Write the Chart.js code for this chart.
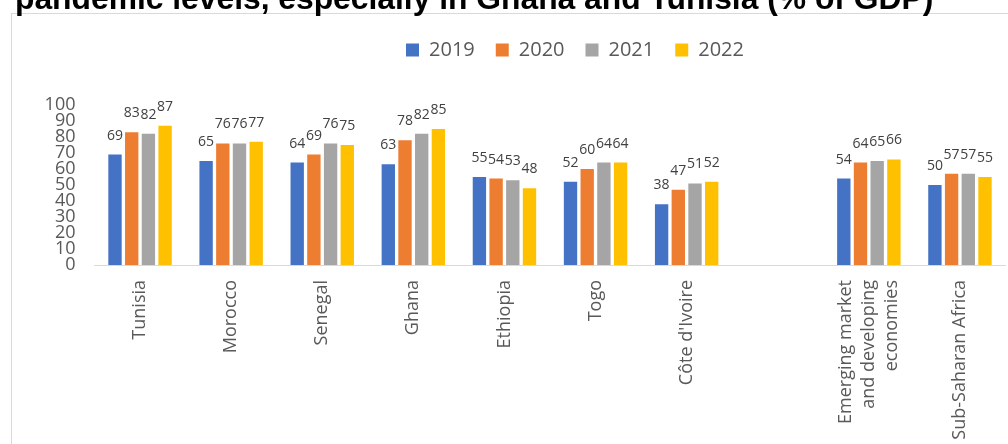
<!DOCTYPE html>
<html>
<head>
<meta charset="utf-8">
<script src="https://cdn.jsdelivr.net/npm/chart.js@4"></script>
<style>
  html, body { margin: 0; padding: 0; width: 1008px; height: 444px; overflow: hidden; background: #fff; }
  #title {
    position: absolute; left: 15px; top: -18px;
    font: bold 31.8px/32px "Liberation Sans", Arial, sans-serif;
    color: #000; white-space: nowrap; z-index: 2;
  }
  #frame {
    position: absolute; left: 11px; top: 13px; width: 1140px; height: 460px;
    border: 1px solid #d9d9d9;
  }
  #wrap { position: absolute; left: 12px; top: 14px; width: 1126px; height: 430px; }
</style>
</head>
<body>
<div id="title">pandemic levels, especially in Ghana and Tunisia (% of GDP)</div>
<div id="frame"></div>
<div id="wrap"><canvas id="barChart"></canvas></div>
<script>
// categories (blank slot separates the country groups from the aggregates)
const categories = ['Tunisia', 'Morocco', 'Senegal', 'Ghana', 'Ethiopia', 'Togo', "Côte d'Ivoire", '',
    ['Emerging market', 'and developing', 'economies'], 'Sub-Saharan Africa'];
const years = ['2019', '2020', '2021', '2022'];
const values2019 = [69, 65, 64, 63, 55, 52, 38, null, 54, 50];
const values2020 = [83, 76, 69, 78, 54, 60, 47, null, 64, 57];
const values2021 = [82, 76, 76, 82, 53, 64, 51, null, 65, 57];
const values2022 = [87, 77, 75, 85, 48, 64, 52, null, 66, 55];
const yTicks = [0, 10, 20, 30, 40, 50, 60, 70, 80, 90, 100];
const colors = ['#4472C4', '#ED7D31', '#A5A5A5', '#FFC000'];

const series = [values2019, values2020, values2021, values2022];
const tickFont = '18px "Open Sans"';

// value labels above each bar
const barLabels = {
    id: 'barLabels',
    afterDatasetsDraw(chart) {
        const ctx = chart.ctx;
        ctx.save();
        ctx.font = '14px "Open Sans"';
        ctx.fillStyle = '#404040';
        ctx.textAlign = 'center';
        ctx.textBaseline = 'alphabetic';
        chart.data.datasets.forEach((ds, i) => {
            chart.getDatasetMeta(i).data.forEach((bar, j) => {
                const v = ds.data[j];
                if (v == null) return;
                ctx.fillText(String(v), bar.x, bar.y - 15);
            });
        });
        ctx.restore();
    }
};

// multi-line category labels: centre the block of lines on the tick
const multiLineTicks = {
    id: 'multiLineTicks',
    afterDraw(chart) {
        const scale = chart.scales.x;
        const ctx = chart.ctx;
        const lineH = 23.4;
        ctx.save();
        ctx.font = tickFont;
        ctx.fillStyle = '#595959';
        categories.forEach((cat, i) => {
            if (!Array.isArray(cat)) return;
            const x = scale.getPixelForValue(i);
            const y = scale.top + 15;
            ctx.save();
            ctx.translate(x, y);
            ctx.rotate(-Math.PI / 2);
            ctx.textAlign = 'right';
            ctx.textBaseline = 'middle';
            cat.forEach((line, k) => {
                ctx.fillText(line, 0, (k - (cat.length - 1) / 2) * lineH);
            });
            ctx.restore();
        });
        ctx.restore();
    }
};

// leave room between legend and plot
const legendSpace = {
    id: 'legendSpace',
    afterInit(chart) {
        const legend = chart.legend;
        const fit = legend.fit;
        legend.fit = function () {
            fit.call(this);
            this.height = 86;
        };
    }
};

const ctx = document.getElementById('barChart').getContext('2d');
const chart = new Chart(ctx, {
    type: 'bar',
    data: {
        labels: categories,
        datasets: series.map((data, i) => ({
            label: years[i],
            data: data,
            backgroundColor: colors[i],
            categoryPercentage: 0.733,
            barPercentage: 0.8
        }))
    },
    options: {
        responsive: true,
        maintainAspectRatio: false,
        animation: false,
        layout: { padding: { top: 5, left: 0, right: 0, bottom: 0 } },
        plugins: {
            legend: {
                position: 'top',
                labels: {
                    boxWidth: 13,
                    boxHeight: 13,
                    padding: 21,
                    color: '#595959',
                    font: { family: 'Open Sans', size: 20 }
                }
            },
            tooltip: { enabled: false }
        },
        scales: {
            x: {
                grid: { display: false, drawTicks: false },
                border: { display: true, color: '#d9d9d9', width: 1 },
                ticks: {
                    autoSkip: false,
                    maxRotation: 90,
                    minRotation: 90,
                    padding: 15,
                    color: '#595959',
                    font: { family: 'Open Sans', size: 18, lineHeight: 1.3 },
                    callback(value, index) {
                        const c = categories[index];
                        return Array.isArray(c) ? '' : c;
                    }
                },
                afterFit(scale) { scale.height = 179; }
            },
            y: {
                min: 0,
                max: 100,
                grid: { display: false, drawTicks: false },
                border: { display: false },
                afterBuildTicks(scale) { scale.ticks = yTicks.map(v => ({ value: v })); },
                ticks: {
                    autoSkip: false,
                    padding: 19,
                    color: '#595959',
                    font: { family: 'Open Sans', size: 18 }
                },
                afterFit(scale) { scale.width = 82.5; }
            },
            // empty right-hand band so the legend stays centred on the full frame
            yRight: {
                position: 'right',
                min: 0,
                max: 100,
                grid: { display: false, drawTicks: false },
                border: { display: false },
                ticks: { display: false },
                afterFit(scale) { scale.width = 132.5; }
            }
        }
    },
    plugins: [barLabels, multiLineTicks, legendSpace]
});
</script>
</body>
</html>
